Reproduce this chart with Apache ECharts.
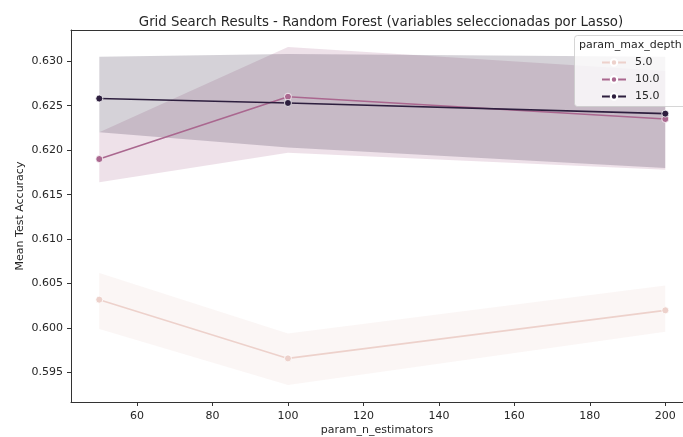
<!DOCTYPE html>
<html>
<head>
<meta charset="utf-8">
<script src="https://cdn.jsdelivr.net/npm/echarts@6/dist/echarts.min.js"></script>
<style>
  html, body { margin: 0; padding: 0; background: #fff; }
  #chart { width: 683px; height: 437px; }
</style>
</head>
<body>
<div id="chart"></div>
<script>
// Grid search results: mean test accuracy per n_estimators, one line per max_depth,
// with the confidence band around each mean.
const nEstimators = [50, 100, 200];
const depthLabels = ['5.0', '10.0', '15.0'];

const mean5   = [0.6032, 0.5966, 0.6020];
const lower5  = [0.5999, 0.5936, 0.5996];
const upper5  = [0.6062, 0.5994, 0.6048];

const mean10  = [0.6190, 0.6260, 0.6235];
const lower10 = [0.6164, 0.6197, 0.6178];
const upper10 = [0.6220, 0.6316, 0.6289];

const mean15  = [0.6258, 0.6253, 0.6241];
const lower15 = [0.6220, 0.6203, 0.6180];
const upper15 = [0.6305, 0.6308, 0.6305];

const xTicks = [60, 80, 100, 120, 140, 160, 180, 200];
const yTicks = [0.595, 0.600, 0.605, 0.610, 0.615, 0.620, 0.625, 0.630];

const palette = ['#edd1cb', '#aa678f', '#2d1e3e'];
const FONT = 'DejaVu Sans';
const TEXT = '#262626';
const AXIS = '#333';

const groups = [
  { mean: mean5,  lower: lower5,  upper: upper5 },
  { mean: mean10, lower: lower10, upper: upper10 },
  { mean: mean15, lower: lower15, upper: upper15 }
];

function pairs(xs, ys) { return xs.map((x, i) => [x, ys[i]]); }
function hexA(hex, a) {
  const n = parseInt(hex.slice(1), 16);
  return 'rgba(' + (n >> 16) + ',' + ((n >> 8) & 255) + ',' + (n & 255) + ',' + a + ')';
}

// One polygon per band: upper edge left to right, then lower edge back.
function bandRenderer(g, color) {
  return function (params, api) {
    if (params.dataIndex !== 0) return null;
    const top = nEstimators.map((x, i) => api.coord([x, g.upper[i]]));
    const bottom = nEstimators.map((x, i) => api.coord([x, g.lower[i]])).reverse();
    return {
      type: 'polygon',
      shape: { points: top.concat(bottom) },
      style: { fill: color, stroke: null },
      silent: true
    };
  };
}

const series = [];
groups.forEach((g, k) => {
  series.push({
    type: 'custom', name: 'band' + k, silent: true, z: 1,
    coordinateSystem: 'cartesian2d',
    data: nEstimators.map((x, i) => [x, g.lower[i], g.upper[i]]),
    encode: { x: 0, y: [1, 2] },
    renderItem: bandRenderer(g, hexA(palette[k], 0.2)),
    clip: true
  });
});
groups.forEach((g, k) => {
  series.push({
    type: 'line', name: depthLabels[k],
    data: pairs(nEstimators, g.mean),
    symbol: 'circle', symbolSize: 7,
    lineStyle: { color: palette[k], width: 1.6 },
    itemStyle: { color: palette[k], borderColor: '#fff', borderWidth: 0.8 },
    emphasis: { disabled: true }, z: 3
  });
});

const X_MIN = 42.5, X_MAX = 204.7;

const chart = echarts.init(document.getElementById('chart'), null, { renderer: 'canvas' });
chart.setOption({
  animation: false,
  backgroundColor: '#fff',
  title: {
    text: 'Grid Search Results - Random Forest (variables seleccionadas por Lasso)',
    left: 376, top: 11, textAlign: 'center',
    textStyle: { fontFamily: FONT, fontSize: 13.3, fontWeight: 'normal', color: TEXT }
  },
  grid: { left: 71, right: 0, top: 30, bottom: 35, outerBoundsMode: 'none', containLabel: false },
  xAxis: [
    {
      type: 'value', min: X_MIN, max: X_MAX,
      name: 'param_n_estimators', nameLocation: 'middle', nameGap: 23, nameMoveOverlap: false,
      nameTextStyle: { fontFamily: FONT, fontSize: 11, color: TEXT },
      axisLine: { onZero: false, lineStyle: { color: AXIS, width: 1 } },
      axisTick: { show: true, length: 4, customValues: xTicks, lineStyle: { color: AXIS } },
      axisLabel: { customValues: xTicks, margin: 9, fontFamily: FONT, fontSize: 11, color: TEXT },
      splitLine: { show: false }
    },
    {
      // top frame line only
      type: 'value', position: 'top', min: X_MIN, max: X_MAX,
      axisLine: { show: true, onZero: false, lineStyle: { color: AXIS, width: 1 } },
      axisTick: { show: false }, axisLabel: { show: false }, splitLine: { show: false }
    }
  ],
  yAxis: {
    type: 'value', min: 0.5917, max: 0.6335,
    name: 'Mean Test Accuracy', nameLocation: 'middle', nameGap: 45, nameMoveOverlap: false,
    nameTextStyle: { fontFamily: FONT, fontSize: 11, color: TEXT },
    axisLine: { show: true, onZero: false, lineStyle: { color: AXIS, width: 1 } },
    axisTick: { show: true, length: 4, customValues: yTicks, lineStyle: { color: AXIS } },
    axisLabel: {
      customValues: yTicks, margin: 8, fontFamily: FONT, fontSize: 11, color: TEXT,
      formatter: v => v.toFixed(3)
    },
    splitLine: { show: false }
  },
  legend: {
    data: depthLabels, orient: 'vertical', left: 601, top: 57,
    padding: 0, itemGap: 6, itemWidth: 24, itemHeight: 8,
    textStyle: { fontFamily: FONT, fontSize: 11, color: TEXT, padding: [0, 0, 0, 4] },
    selectedMode: false, z: 6
  },
  graphic: [
    {
      type: 'rect', left: 574, top: 35, z: 5, silent: true,
      shape: { width: 122, height: 71, r: 3 },
      style: { fill: 'rgba(255,255,255,0.8)', stroke: 'rgba(204,204,204,0.8)', lineWidth: 1 }
    },
    {
      type: 'text', left: 579, top: 40, z: 6, silent: true,
      style: { text: 'param_max_depth', font: '11px "DejaVu Sans"', fill: TEXT }
    }
  ],
  series: series
});
</script>
</body>
</html>
